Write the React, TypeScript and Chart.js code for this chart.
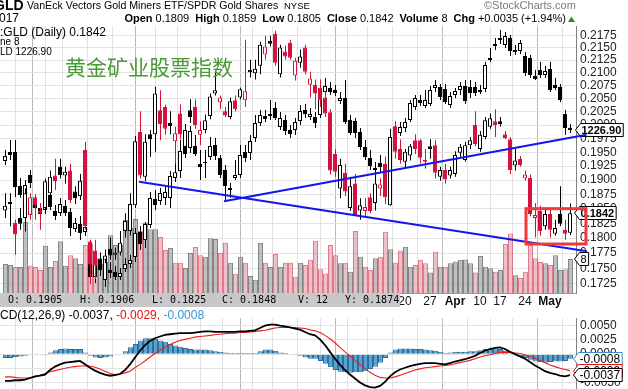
import React, { useEffect, useRef } from 'react';
import { Chart, registerables } from 'chart.js';
Chart.register(...registerables);

// ---------------- DATA ----------------
// GDX:GLD ratio daily candles (Nov 21 2016 .. May 5 2017)
const ratioOpen = [
0.1847,0.1862,0.1826,0.1834,0.1834,0.1839,0.1870,0.1847,0.1851,0.1877,
0.1908,0.1924,0.1908,0.1917,0.1880,0.1872,0.1954,0.1794,0.1779,0.1766,
0.1764,0.1782,0.1772,0.1776,0.1812,0.1812,0.1856,0.1987,0.1906,0.1983,
0.1983,0.2028,0.2034,0.2004,0.1970,0.2022,0.1960,0.2028,0.2034,0.1982,
0.1991,0.2017,0.2060,0.2043,0.2026,0.2015,0.2047,0.2052,0.2047,0.2106,
0.2099,0.2114,0.2136,0.2164,0.2178,0.2097,0.2142,0.2160,0.2095,0.2120,
0.2150,0.2077,0.2077,0.2071,0.2052,0.2024,0.1947,0.1885,0.1913,0.1851,
0.1894,0.1847,0.1846,0.1870,0.1860,0.1885,0.1929,0.1856,0.1998,0.1956,
0.1933,0.1944,0.1972,0.1972,0.1936,0.1961,0.1963,0.1906,0.1918,0.1908,
0.1911,0.1949,0.1936,0.1963,0.2000,0.1956,0.1978,0.1997,0.2007,0.2007,
0.1983,0.1974,0.1926,0.1938,0.1903,0.1904,0.1834,0.1846,0.1820,0.1841,
0.1807,0.1841,0.1814,0.1809];
const ratioHigh = [
0.1877,0.1877,0.1831,0.1851,0.1885,0.1877,0.1875,0.1860,0.1903,0.1917,
0.1938,0.1938,0.1924,0.1929,0.1889,0.1911,0.1969,0.1797,0.1797,0.1776,
0.1781,0.1801,0.1784,0.1812,0.1842,0.1877,0.1980,0.2026,0.1983,0.1991,
0.2073,0.2066,0.2039,0.2026,0.1997,0.2039,0.2002,0.2049,0.2049,0.2007,
0.2020,0.2060,0.2104,0.2056,0.2034,0.2052,0.2056,0.2071,0.2166,0.2126,
0.2126,0.2162,0.2174,0.2174,0.2184,0.2156,0.2154,0.2166,0.2130,0.2146,
0.2156,0.2102,0.2087,0.2087,0.2064,0.2030,0.1956,0.1938,0.1929,0.1906,
0.1911,0.1868,0.1868,0.1877,0.1917,0.1903,0.1942,0.1993,0.2007,0.1974,
0.1956,0.1965,0.1983,0.1974,0.1956,0.1974,0.1972,0.1924,0.1929,0.1924,
0.1952,0.1965,0.1969,0.1978,0.2026,0.1989,0.2015,0.2022,0.2030,0.2015,
0.1989,0.1978,0.1956,0.1943,0.1917,0.1910,0.1860,0.1855,0.1851,0.1849,
0.1831,0.1889,0.1831,0.1859];
const ratioLow = [
0.1834,0.1820,0.1772,0.1814,0.1811,0.1831,0.1831,0.1814,0.1844,0.1868,
0.1882,0.1903,0.1894,0.1860,0.1858,0.1865,0.1814,0.1724,0.1732,0.1748,
0.1758,0.1764,0.1764,0.1771,0.1801,0.1804,0.1851,0.1903,0.1898,0.1942,
0.1951,0.1972,0.1982,0.1983,0.1929,0.1974,0.1942,0.2004,0.1993,0.1963,
0.1985,0.2011,0.2056,0.2030,0.2015,0.2011,0.2026,0.2049,0.2034,0.2091,
0.2087,0.2097,0.2126,0.2152,0.2114,0.2091,0.2126,0.2126,0.2085,0.2110,
0.2097,0.2052,0.2030,0.2034,0.2015,0.1910,0.1906,0.1868,0.1872,0.1846,
0.1837,0.1831,0.1837,0.1842,0.1847,0.1872,0.1858,0.1855,0.1938,0.1929,
0.1920,0.1935,0.1947,0.1929,0.1920,0.1938,0.1903,0.1899,0.1894,0.1903,
0.1906,0.1942,0.1933,0.1956,0.1961,0.1951,0.1974,0.1993,0.1978,0.1997,
0.1974,0.1911,0.1917,0.1924,0.1899,0.1837,0.1801,0.1804,0.1814,0.1801,
0.1804,0.1820,0.1797,0.1805];
const ratioClose = [
0.1855,0.1858,0.1806,0.1824,0.1877,0.1870,0.1856,0.1842,0.1898,0.1906,
0.1898,0.1909,0.1915,0.1865,0.1868,0.1899,0.1820,0.1756,0.1754,0.1756,
0.1771,0.1771,0.1776,0.1792,0.1829,0.1858,0.1970,0.1908,0.1969,0.1974,
0.2060,0.2002,0.1993,0.1998,0.1985,0.1983,0.1991,0.2015,0.2000,0.1991,
0.2009,0.2054,0.2066,0.2052,0.2018,0.2045,0.2030,0.2068,0.2064,0.2101,
0.2108,0.2156,0.2152,0.2158,0.2120,0.2150,0.2132,0.2130,0.2124,0.2132,
0.2102,0.2089,0.2060,0.2047,0.2022,0.1917,0.1915,0.1927,0.1880,0.1889,
0.1839,0.1856,0.1853,0.1846,0.1894,0.1892,0.1870,0.1978,0.1951,0.1936,
0.1951,0.1961,0.1956,0.1940,0.1933,0.1956,0.1913,0.1918,0.1901,0.1918,
0.1945,0.1960,0.1963,0.1972,0.1965,0.1982,0.2009,0.2013,0.2000,0.2002,
0.1976,0.1918,0.1935,0.1927,0.1910,0.1841,0.1839,0.1812,0.1841,0.1814,
0.1817,0.1824,0.1807,0.1842];

// Gold price overlay candles
const goldOpen = [
1206.1,1212.2,1212.2,1189.7,1183.9,1196.9,1180.6,1175.4,1174.1,1183.9,
1173.5,1172.2,1176.7,1172.8,1162.0,1165.1,1160.0,1141.1,1131.7,1139.8,
1129.8,1136.1,1134.8,1131.7,1136.7,1139.8,1144.2,1160.0,1154.9,1164.5,
1181.3,1180.0,1181.9,1181.9,1194.9,1199.5,1216.2,1214.8,1216.2,1204.2,
1205.5,1208.8,1216.8,1208.2,1200.2,1188.4,1194.9,1196.9,1212.2,1211.5,
1221.5,1231.6,1236.3,1237.7,1241.8,1228.9,1233.7,1226.9,1226.9,1233.0,
1240.5,1235.7,1235.7,1237.0,1252.8,1255.6,1254.2,1246.6,1248.6,1233.7,
1233.0,1225.6,1215.5,1208.2,1200.2,1204.8,1202.2,1204.2,1224.9,1224.9,
1228.2,1233.7,1242.5,1247.3,1243.2,1244.6,1255.6,1256.2,1254.9,1243.9,
1250.7,1254.2,1256.9,1256.2,1256.2,1254.2,1254.9,1276.4,1286.3,1290.5,
1285.6,1290.5,1280.6,1281.3,1277.8,1276.4,1263.8,1268.0,1264.5,1268.7,
1257.6,1256.2,1237.7,1228.5];
const goldHigh = [
1213.5,1220.2,1220.2,1194.9,1193.6,1200.2,1183.2,1177.4,1180.6,1187.1,
1177.4,1181.9,1180.6,1175.4,1169.0,1170.3,1166.4,1148.6,1143.6,1143.6,
1147.3,1141.1,1138.6,1137.3,1143.6,1145.5,1162.6,1163.8,1166.4,1185.8,
1187.1,1188.4,1190.4,1199.5,1205.5,1220.2,1223.5,1229.6,1223.5,1213.5,
1213.5,1222.2,1221.5,1210.2,1203.5,1191.7,1206.8,1216.8,1216.8,1223.5,
1237.0,1240.5,1240.5,1247.3,1245.9,1239.1,1237.0,1230.3,1235.0,1243.9,
1244.6,1241.8,1239.1,1257.6,1262.5,1259.7,1257.6,1252.8,1261.1,1237.0,
1235.0,1228.2,1220.2,1213.5,1205.5,1210.2,1206.8,1221.5,1230.3,1232.3,
1235.0,1247.3,1250.7,1250.7,1254.2,1256.9,1261.1,1258.3,1258.3,1252.8,
1255.6,1259.7,1261.1,1261.1,1259.7,1257.6,1273.6,1283.4,1290.5,1296.2,
1294.8,1292.6,1285.6,1289.1,1280.6,1278.5,1268.0,1273.6,1270.8,1273.6,
1262.5,1258.3,1240.5,1231.0];
const goldLow = [
1203.5,1206.8,1182.6,1182.0,1180.6,1188.4,1172.8,1169.0,1171.5,1174.1,
1167.7,1170.3,1170.3,1157.5,1160.0,1154.9,1157.5,1128.6,1128.0,1132.3,
1125.5,1131.1,1129.8,1129.8,1134.8,1137.3,1141.1,1148.6,1149.9,1162.6,
1174.1,1177.4,1177.4,1175.4,1192.3,1194.9,1208.2,1211.5,1209.5,1193.6,
1194.9,1206.8,1206.8,1194.9,1180.6,1182.0,1193.6,1194.9,1205.5,1206.8,
1218.8,1229.6,1232.3,1233.7,1233.7,1226.9,1223.5,1221.5,1223.5,1230.3,
1235.0,1233.7,1228.2,1235.0,1250.0,1250.7,1250.0,1244.6,1231.0,1223.5,
1221.5,1213.5,1206.8,1200.2,1196.9,1198.8,1196.2,1201.5,1221.5,1222.9,
1225.6,1232.3,1240.5,1243.2,1241.8,1243.2,1252.8,1247.3,1244.6,1241.8,
1248.6,1250.7,1244.6,1248.6,1250.0,1251.4,1252.8,1273.6,1282.0,1286.3,
1283.4,1277.8,1278.5,1279.2,1263.8,1262.5,1261.1,1262.5,1262.5,1252.8,
1254.2,1245.9,1223.5,1224.9];
const goldClose = [
1209.5,1210.2,1189.1,1183.9,1190.4,1191.7,1175.4,1171.5,1178.0,1176.1,
1170.3,1178.0,1172.2,1162.6,1165.8,1159.4,1163.2,1131.7,1140.5,1136.1,
1144.8,1134.2,1131.7,1134.2,1139.8,1142.3,1159.4,1152.4,1165.1,1181.9,
1177.4,1185.2,1185.8,1196.2,1198.8,1212.8,1210.8,1226.2,1210.8,1202.2,
1204.8,1216.2,1209.5,1196.9,1189.7,1187.1,1196.9,1210.2,1208.2,1219.5,
1231.6,1237.0,1234.3,1236.3,1235.0,1235.0,1226.2,1224.2,1232.3,1239.8,
1237.7,1237.7,1231.6,1253.5,1256.9,1252.8,1252.1,1248.6,1232.3,1224.9,
1224.9,1215.5,1208.8,1202.8,1201.5,1202.2,1204.2,1220.2,1228.9,1228.9,
1232.3,1245.3,1248.6,1245.3,1247.3,1254.2,1257.6,1249.3,1245.9,1250.0,
1253.5,1256.9,1246.6,1252.1,1252.1,1252.8,1271.5,1275.0,1284.9,1289.1,
1291.9,1281.3,1282.0,1287.0,1265.9,1264.5,1261.8,1264.5,1267.3,1254.2,
1255.6,1247.3,1228.2,1226.9];

// Volume of the ratio
const volume = [
6.8,6.6,6.1,6.1,16.7,6.4,6.1,5.4,11.1,6.1,
7.5,12.2,6.4,8.9,8.2,6.8,11.3,11.5,8.2,6.8,
7.3,13.6,11.3,11.3,17.2,15.3,17.4,14.6,16.5,15.0,
15.0,13.2,10.1,10.6,7.1,7.1,5.9,9.4,10.8,8.9,
8.5,12.9,12.7,9.4,11.8,7.1,4.5,8.5,7.1,4.0,
3.1,11.8,7.1,6.1,9.2,6.1,7.1,7.1,3.8,7.1,
6.6,7.8,12.3,5.6,4.6,11.3,8.9,7.0,7.1,5.0,
14.6,8.5,6.2,5.4,8.2,8.5,14.4,10.3,7.1,10.0,
10.9,6.2,6.6,7.8,7.0,4.8,9.7,6.2,6.2,7.0,
7.4,7.8,7.9,7.0,4.8,8.7,6.2,5.8,5.0,5.4,
11.5,14.0,4.2,3.5,5.0,11.3,8.2,7.3,7.0,6.6,
8.9,5.4,5.6,8];

// MACD(12,26,9) of the ratio
const macdLine = [
-0.0047,-0.0047,-0.0046,-0.0046,-0.0045,-0.0042,-0.0039,-0.0038,-0.0036,-0.0028,
-0.0022,-0.0018,-0.0015,-0.0014,-0.0013,-0.0012,-0.0018,-0.0024,-0.0029,-0.0033,
-0.0036,-0.0038,-0.0037,-0.0035,-0.0028,-0.0018,-0.0006,0.0006,0.0016,0.0023,
0.0028,0.0031,0.0034,0.0035,0.0036,0.0037,0.0037,0.0037,0.0038,0.0039,
0.0040,0.0040,0.0039,0.0039,0.0039,0.0039,0.0039,0.0040,0.0040,0.0041,
0.0042,0.0046,0.0050,0.0052,0.0052,0.0050,0.0049,0.0047,0.0045,0.0043,
0.0039,0.0035,0.0033,0.0026,0.0016,0.0004,-0.0008,-0.0019,-0.0028,-0.0036,
-0.0043,-0.0050,-0.0055,-0.0058,-0.0059,-0.0056,-0.0049,-0.0039,-0.0032,-0.0027,
-0.0024,-0.0021,-0.0019,-0.0017,-0.0016,-0.0016,-0.0016,-0.0017,-0.0018,-0.0016,
-0.0013,-0.0011,-0.0009,-0.0006,-0.0003,0.0002,0.0006,0.0009,0.0011,0.0012,
0.0009,0.0004,0.0000,-0.0004,-0.0008,-0.0014,-0.0020,-0.0025,-0.0030,-0.0033,
-0.0035,-0.0038,-0.0039,-0.0037];
const signalLine = [
-0.0040,-0.0040,-0.0041,-0.0042,-0.0042,-0.0042,-0.0040,-0.0037,-0.0034,-0.0031,
-0.0029,-0.0027,-0.0025,-0.0023,-0.0022,-0.0021,-0.0021,-0.0021,-0.0023,-0.0026,
-0.0030,-0.0034,-0.0036,-0.0035,-0.0033,-0.0030,-0.0024,-0.0018,-0.0012,-0.0005,
0.0001,0.0007,0.0012,0.0017,0.0021,0.0024,0.0026,0.0028,0.0030,0.0031,
0.0032,0.0033,0.0034,0.0035,0.0036,0.0037,0.0037,0.0038,0.0038,0.0039,
0.0040,0.0041,0.0042,0.0044,0.0046,0.0047,0.0047,0.0047,0.0047,0.0046,
0.0045,0.0043,0.0041,0.0038,0.0033,0.0027,0.0020,0.0012,0.0004,-0.0003,
-0.0011,-0.0018,-0.0025,-0.0032,-0.0037,-0.0041,-0.0042,-0.0042,-0.0040,-0.0037,
-0.0034,-0.0031,-0.0028,-0.0026,-0.0024,-0.0023,-0.0022,-0.0021,-0.0020,-0.0019,
-0.0017,-0.0015,-0.0013,-0.0011,-0.0008,-0.0005,-0.0003,-0.0001,0.0001,0.0003,
0.0003,0.0003,0.0002,0.0001,-0.0001,-0.0004,-0.0007,-0.0011,-0.0015,-0.0019,
-0.0022,-0.0025,-0.0027,-0.0029];
const macdHist = [
-0.0007,-0.0007,-0.0005,-0.0004,-0.0003,0.0000,0.0001,-0.0001,-0.0002,0.0003,
0.0007,0.0009,0.0010,0.0009,0.0009,0.0009,0.0003,-0.0003,-0.0006,-0.0007,
-0.0006,-0.0004,-0.0001,0.0000,0.0005,0.0012,0.0018,0.0024,0.0028,0.0028,
0.0027,0.0024,0.0022,0.0018,0.0015,0.0013,0.0011,0.0009,0.0008,0.0008,
0.0008,0.0007,0.0005,0.0004,0.0003,0.0002,0.0002,0.0002,0.0002,0.0002,
0.0002,0.0005,0.0008,0.0008,0.0006,0.0003,0.0002,0.0000,-0.0002,-0.0003,
-0.0006,-0.0008,-0.0008,-0.0012,-0.0017,-0.0023,-0.0028,-0.0031,-0.0032,-0.0033,
-0.0032,-0.0032,-0.0030,-0.0026,-0.0022,-0.0015,-0.0007,0.0003,0.0008,0.0010,
0.0010,0.0010,0.0009,0.0009,0.0008,0.0007,0.0006,0.0004,0.0002,0.0003,
0.0004,0.0004,0.0004,0.0005,0.0005,0.0007,0.0009,0.0010,0.0010,0.0009,
0.0006,0.0001,-0.0002,-0.0005,-0.0007,-0.0010,-0.0013,-0.0014,-0.0015,-0.0014,
-0.0013,-0.0013,-0.0012,-0.0008];

// Axis ticks / labels
const ratioTicks = [0.1725,0.1750,0.1775,0.1800,0.1825,0.1850,0.1875,0.1900,0.1925,0.1950,0.1975,0.2000,0.2025,0.2050,0.2075,0.2100,0.2125,0.2150,0.2175];
const macdTicks = [-0.0050,-0.0025,0.0000,0.0025,0.0050];
const weekStarts = [0,4,9,14,19,24,28,32,37,41,46,51,56,61,65,70,75,80,85,90,95,99,104,109];
const monthStarts = [7,28,48,67,90,109];
const dateTickIdx = [80,85,90,95,99,104,109];
const dateTickText = ['20','27','Apr','10','17','24','May'];

// Annotations (ratio-scale coordinates: [bar index, value])
const supportLine = { from: [26.8, 0.1897], to: [116.4, 0.1778] };
const risingLine = { from: [43.8, 0.1863], to: [116.3, 0.1982] };
const boxZone = { x0: 104.2, x1: 116.2, top: 0.1850, bottom: 0.1790 };

// Texts
const symbolText = 'GLD';
const nameText = 'VanEck Vectors Gold Miners ETF/SPDR Gold Shares';
const exchText = 'NYSE';
const creditText = '\u00A9StockCharts.com';
const dateText = '017';
const quoteParts: [string, string][] = [
  ['Open', '0.1809'], ['High', '0.1859'], ['Low', '0.1805'], ['Close', '0.1842'],
  ['Volume', '8'], ['Chg', '+0.0035 (+1.94%)'],
];
const legendRatio = ':GLD (Daily) 0.1842';
const legendVol = 'ne 8';
const legendGold = 'LD 1226.90';
const cnTitle = '黄金矿业股票指数';
const infoParts: [string, number][] = [
  ['O: 0.1905', 8], ['H: 0.1906', 80], ['L: 0.1825', 152], ['C: 0.1848', 222], ['V: 12', 298], ['Y: 0.1874', 345],
];
const macdTitle: [string, string][] = [
  ['CD(12,26,9) -0.0037, ', '#000000'], ['-0.0029, ', '#e01010'], ['-0.0008', '#3a96cc'],
];

// ---------------- STYLE ----------------
const FONT = '"Liberation Sans", Arial, sans-serif';
const RED = '#d3133b';
const BLACK = '#000000';
const X_MIN = -1;
const X_MAX = 114.2;
const SHIFT = 0.1; // half-pixel shift for 1px wicks / 5px bars
const N = ratioClose.length;
const idx = Array.from({ length: N }, (_, i) => i);

const ratioColor = ratioClose.map((c, i) => (i > 0 && c < ratioClose[i - 1] ? RED : BLACK));
const ratioFill = ratioClose.map((c, i) => (c < ratioOpen[i] ? ratioColor[i] : '#ffffff'));
const goldFill = goldClose.map((c, i) => (c < goldOpen[i] ? BLACK : '#ffffff'));
const volFill = ratioColor.map((c) => (c === RED ? 'rgba(228,150,162,0.6)' : 'rgba(150,150,150,0.6)'));
const volLine = ratioColor.map((c) => (c === RED ? 'rgba(214,100,116,0.85)' : 'rgba(112,112,112,0.85)'));

const allXTicks = Array.from(new Set([...weekStarts, ...monthStarts])).sort((a, b) => a - b);

function drawTag(ctx: CanvasRenderingContext2D, x: number, yc: number, text: string, border: string, font: string) {
  ctx.save();
  ctx.font = font;
  const w = ctx.measureText(text).width;
  const y = Math.round(yc);
  const h = 6.5;
  const tip = 5;
  ctx.beginPath();
  ctx.moveTo(x + 0.5, y);
  ctx.lineTo(x + tip + 0.5, y - h);
  ctx.lineTo(x + tip + w + 3.5, y - h);
  ctx.lineTo(x + tip + w + 3.5, y + h);
  ctx.lineTo(x + tip + 0.5, y + h);
  ctx.closePath();
  ctx.fillStyle = '#ffffff';
  ctx.fill();
  ctx.strokeStyle = border;
  ctx.lineWidth = 1;
  ctx.stroke();
  ctx.fillStyle = '#000000';
  ctx.textBaseline = 'middle';
  ctx.textAlign = 'left';
  ctx.fillText(text, x + tip + 1.5, y + 1);
  ctx.restore();
}

function txt(ctx: CanvasRenderingContext2D, s: string, x: number, y: number, font: string, color = '#000') {
  ctx.font = font;
  ctx.fillStyle = color;
  ctx.textBaseline = 'middle';
  ctx.textAlign = 'left';
  ctx.fillText(s, x, y);
  return ctx.measureText(s).width;
}

function measure(ctx: CanvasRenderingContext2D, s: string, font: string) {
  ctx.font = font;
  return ctx.measureText(s).width;
}

const xScaleBase = (showLabels: boolean) => ({
  type: 'linear' as const,
  min: X_MIN,
  max: X_MAX,
  offset: false,
  afterBuildTicks: (s: any) => { s.ticks = allXTicks.map((v) => ({ value: v })); },
  afterFit: (s: any) => { s.height = showLabels ? 15 : 0; },
  grid: {
    drawTicks: false,
    color: (c: any) => (c.tick && monthStarts.includes(c.tick.value) ? '#b9b9b9' : '#e2e2e2'),
  },
  border: { display: showLabels, color: '#9a9a9a' },
  ticks: {
    display: showLabels,
    autoSkip: false,
    maxRotation: 0,
    minRotation: 0,
    padding: 1,
    color: '#111',
    callback: (v: any) => { const k = dateTickIdx.indexOf(Number(v)); return k >= 0 ? dateTickText[k] : ''; },
    font: (c: any) => ({ family: FONT, size: 12, weight: c.tick && /[A-Za-z]/.test(String(c.tick.label)) ? 'bold' : 'normal' }),
  },
});

const mainPlugin = {
  id: 'mainDecor',
  afterDraw(chart: any) {
    const ctx: CanvasRenderingContext2D = chart.ctx;
    const xs = chart.scales.x, yr = chart.scales.yRatio, yg = chart.scales.yGold, yv = chart.scales.yVol;
    ctx.save();
    // header row 1
    txt(ctx, symbolText, -6, 6, `bold 14px ${FONT}`);
    txt(ctx, nameText, 27, 6, `10.6px ${FONT}`);
    txt(ctx, exchText, 284, 6, `9.5px ${FONT}`);
    txt(ctx, creditText, 484, 6, `11px ${FONT}`, '#7a7a7a');
    // header row 2: laid out right-aligned ending before the arrow
    txt(ctx, dateText, -1, 19, `12px ${FONT}`);
    const fB = `bold 11px ${FONT}`, fR = `11px ${FONT}`;
    let total = 0;
    quoteParts.forEach(([l, v], k) => {
      total += measure(ctx, l, fB) + 3 + measure(ctx, v, fR) + (k < quoteParts.length - 1 ? 6 : 0);
    });
    let qx = 566 - total;
    quoteParts.forEach(([l, v]) => {
      qx += txt(ctx, l, qx, 19, fB) + 3;
      qx += txt(ctx, v, qx, 19, fR) + 6;
    });
    ctx.fillStyle = '#2f8a2f';
    ctx.beginPath(); ctx.moveTo(568, 22); ctx.lineTo(575, 22); ctx.lineTo(571.5, 16.5); ctx.closePath(); ctx.fill();
    // legends inside plot
    txt(ctx, legendRatio, 0, 32.5, `12px ${FONT}`);
    txt(ctx, legendVol, 0, 42.5, `10px ${FONT}`);
    txt(ctx, legendGold, 0, 52.5, `10px ${FONT}`);
    // chinese title
    txt(ctx, cnTitle, 65, 67, `21px "Noto Sans CJK SC"`, '#4a9a38');
    // info box over x labels
    ctx.fillStyle = '#c8c8c8';
    ctx.fillRect(0, 293, 400, 14);
    for (const [s, x] of infoParts) txt(ctx, s, x, 300.5, `10px "DejaVu Sans Mono", monospace`);
    // value tags
    drawTag(ctx, 575, yg.getPixelForValue(goldClose[N - 1]), goldClose[N - 1].toFixed(2), '#000', `bold 11px ${FONT}`);
    drawTag(ctx, 574, yr.getPixelForValue(ratioClose[N - 1]), ratioClose[N - 1].toFixed(4), '#000', `bold 11px ${FONT}`);
    drawTag(ctx, 574, yv.getPixelForValue(volume[N - 1]), String(volume[N - 1]), '#000', `11px ${FONT}`);
    // trend lines
    ctx.strokeStyle = '#1414ee';
    ctx.lineWidth = 2;
    for (const ln of [supportLine, risingLine]) {
      ctx.beginPath();
      ctx.moveTo(xs.getPixelForValue(ln.from[0]), yr.getPixelForValue(ln.from[1]));
      ctx.lineTo(xs.getPixelForValue(ln.to[0]), yr.getPixelForValue(ln.to[1]));
      ctx.stroke();
    }
    // red zone box
    const bx0 = xs.getPixelForValue(boxZone.x0), bx1 = xs.getPixelForValue(boxZone.x1);
    const by0 = yr.getPixelForValue(boxZone.top), by1 = yr.getPixelForValue(boxZone.bottom);
    ctx.strokeStyle = '#f03a3a';
    ctx.lineWidth = 3;
    ctx.strokeRect(bx0, by0, bx1 - bx0, by1 - by0);
    ctx.restore();
  },
};

const macdPlugin = {
  id: 'macdDecor',
  afterDraw(chart: any) {
    const ctx: CanvasRenderingContext2D = chart.ctx;
    const ym = chart.scales.y;
    ctx.save();
    let x = 0;
    for (const [s, c] of macdTitle) x += txt(ctx, s, x, 8.5, `12px ${FONT}`, c);
    drawTag(ctx, 573, ym.getPixelForValue(macdHist[N - 1]), macdHist[N - 1].toFixed(4), '#3a8fc6', `12px ${FONT}`);
    drawTag(ctx, 573, ym.getPixelForValue(signalLine[N - 1]), signalLine[N - 1].toFixed(4), '#e01010', `12px ${FONT}`);
    drawTag(ctx, 573, ym.getPixelForValue(macdLine[N - 1]), macdLine[N - 1].toFixed(4), '#000', `12px ${FONT}`);
    ctx.restore();
  },
};

function mainConfig(): any {
  return {
    type: 'bar',
    data: {
      datasets: [
        {
          label: 'Volume', yAxisID: 'yVol', order: 10, grouped: false, barThickness: 5, inflateAmount: 0,
          data: idx.map((i) => ({ x: i + SHIFT, y: volume[i] })),
          backgroundColor: volFill, borderColor: volLine, borderWidth: 1, borderSkipped: 'start',
        },
        {
          label: 'Gold wick', yAxisID: 'yGold', order: 6, grouped: false, barThickness: 1, inflateAmount: 0,
          data: idx.map((i) => ({ x: i + SHIFT, y: [goldLow[i], goldHigh[i]] })),
          backgroundColor: BLACK, borderWidth: 0,
        },
        {
          label: 'Gold body', yAxisID: 'yGold', order: 5, grouped: false, barThickness: 4, inflateAmount: 0, minBarLength: 1,
          data: idx.map((i) => ({ x: i, y: [Math.min(goldOpen[i], goldClose[i]), Math.max(goldOpen[i], goldClose[i])] })),
          backgroundColor: goldFill, borderColor: BLACK, borderWidth: 1, borderSkipped: false,
        },
        {
          label: 'Ratio wick', yAxisID: 'yRatio', order: 2, grouped: false, barThickness: 1, inflateAmount: 0,
          data: idx.map((i) => ({ x: i + SHIFT, y: [ratioLow[i], ratioHigh[i]] })),
          backgroundColor: ratioColor, borderWidth: 0,
        },
        {
          label: 'Ratio body', yAxisID: 'yRatio', order: 1, grouped: false, barThickness: 4, inflateAmount: 0, minBarLength: 1,
          data: idx.map((i) => ({ x: i, y: [Math.min(ratioOpen[i], ratioClose[i]), Math.max(ratioOpen[i], ratioClose[i])] })),
          backgroundColor: ratioFill, borderColor: ratioColor, borderWidth: 1, borderSkipped: false,
        },
      ],
    },
    options: {
      responsive: false,
      animation: false,
      devicePixelRatio: 1,
      events: [],
      layout: { padding: { top: 26, left: 0, right: 0, bottom: 0 } },
      plugins: { legend: { display: false }, tooltip: { enabled: false } },
      scales: {
        x: xScaleBase(true),
        yRatio: {
          type: 'logarithmic', position: 'right', min: 0.17139, max: 0.21938,
          afterBuildTicks: (s: any) => { s.ticks = ratioTicks.map((v) => ({ value: v })); },
          afterFit: (s: any) => { s.width = 52; },
          grid: { drawTicks: false, color: '#e2e2e2' },
          border: { display: true, color: '#808080' },
          ticks: { padding: 4, color: '#222', autoSkip: false, font: { family: FONT, size: 12 }, callback: (v: any) => Number(v).toFixed(4) },
        },
        yGold: { type: 'logarithmic', display: false, min: 1121.8, max: 1299.05 },
        yVol: { type: 'linear', display: false, min: 0, max: 62.8 },
      },
    },
    plugins: [mainPlugin],
  };
}

function macdConfig(): any {
  return {
    type: 'bar',
    data: {
      datasets: [
        {
          type: 'line', label: 'MACD', order: 1, data: idx.map((i) => ({ x: i, y: macdLine[i] })),
          borderColor: '#000000', borderWidth: 1.8, pointRadius: 0, tension: 0,
        },
        {
          type: 'line', label: 'Signal', order: 2, data: idx.map((i) => ({ x: i, y: signalLine[i] })),
          borderColor: '#ee1c1c', borderWidth: 1.1, pointRadius: 0, tension: 0,
        },
        {
          type: 'bar', label: 'Histogram', order: 3, grouped: false, barThickness: 5, inflateAmount: 0,
          data: idx.map((i) => ({ x: i + SHIFT, y: macdHist[i] })),
          backgroundColor: '#5aa3d1', borderColor: '#2d6e9c', borderWidth: 1, borderSkipped: 'start',
        },
      ],
    },
    options: {
      responsive: false,
      animation: false,
      devicePixelRatio: 1,
      events: [],
      layout: { padding: 0 },
      plugins: { legend: { display: false }, tooltip: { enabled: false } },
      scales: {
        x: xScaleBase(false),
        y: {
          type: 'linear', position: 'right', min: -0.007336, max: 0.006325,
          afterBuildTicks: (s: any) => { s.ticks = macdTicks.map((v) => ({ value: v })); },
          afterFit: (s: any) => { s.width = 52; },
          grid: { drawTicks: false, color: '#e2e2e2' },
          border: { display: true, color: '#808080' },
          ticks: { padding: 4, color: '#222', autoSkip: false, font: { family: FONT, size: 12 }, callback: (v: any) => Number(v).toFixed(4) },
        },
      },
    },
    plugins: [macdPlugin],
  };
}

export default function App() {
  const mainRef = useRef<HTMLCanvasElement>(null);
  const macdRef = useRef<HTMLCanvasElement>(null);
  useEffect(() => {
    const c1 = new Chart(mainRef.current as HTMLCanvasElement, mainConfig());
    const c2 = new Chart(macdRef.current as HTMLCanvasElement, macdConfig());
    return () => { c1.destroy(); c2.destroy(); };
  }, []);
  return (
    <div style={{ position: 'fixed', left: 0, top: 0, width: 628, height: 389, overflow: 'hidden', background: '#ffffff' }}>
      <canvas ref={mainRef} width={628} height={308} style={{ position: 'absolute', left: 0, top: 0, width: 628, height: 308 }} />
      <canvas ref={macdRef} width={628} height={100} style={{ position: 'absolute', left: 0, top: 307, width: 628, height: 100 }} />
    </div>
  );
}
